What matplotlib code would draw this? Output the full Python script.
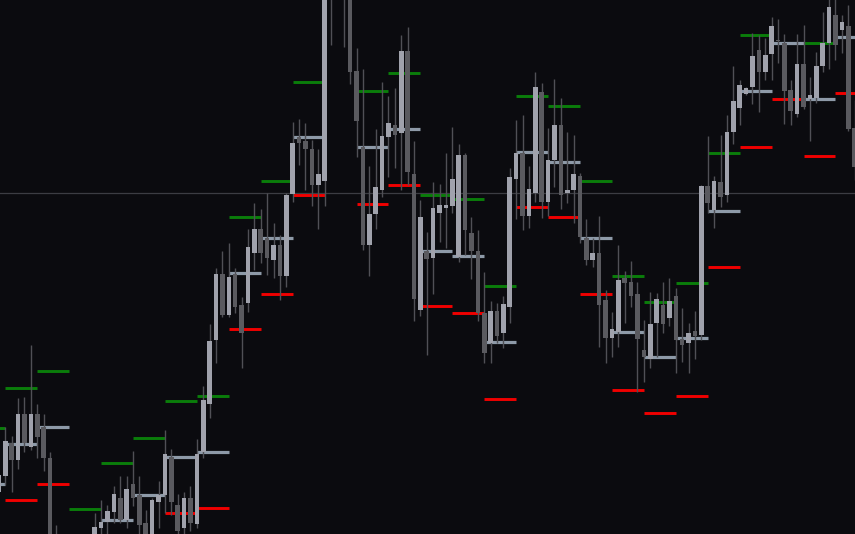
import numpy as np
import matplotlib.pyplot as plt

# candle values, one per bar (bars 9-14 and 52-54 sit outside the visible window)
opens = [42, 58.3, 90.7, 74, 120, 87.3, 120, 107.3, 75.7, -21,
         -46, -61, -66, -51, -36, -16, 5.7, 12.3, 21.7, 35.7,
         14, 50, 39, 11.3, -11, 32.3, 39, 76.7, 29, 5.7,
         35.7, 10, 82.3, 130, 194, 260, 219, 260, 229, 231,
         281.3, 304.7, 295.7, 274, 289, 258, 340, 397.3, 393.3, 385.3,
         348.7, 353.3, 564, 544, 559, 539, 463.3, 387.3, 289, 320,
         344, 397.3, 409, 401.3, 483, 360, 224, 283.3, 275.7, 321.3,
         325.7, 328, 277.3, 379, 300.7, 283.3, 220.7, 191.3, 223.3, 201.3,
         227.3, 354.7, 381.3, 318, 341.3, 442.3, 332.3, 374, 409, 340.7,
         344, 358, 295.7, 274, 281.3, 234, 195.7, 201.7, 255.7, 252.3,
         239.7, 184, 174.7, 211.3, 229, 215.7, 238, 194.7, 190.7, 203.3,
         199, 348, 324, 352.3, 339, 402.3, 425.7, 440, 447.3, 484,
         462.3, 480, 494, 491.3, 444, 420, 470, 434.7, 435.7, 468,
         491.3, 519, 504, 508, 405.7]
highs = [64, 107.3, 98, 136.3, 137.3, 189, 129.7, 120, 82.3, 9,
         -26, -36, -41, -26, -11, 21.3, 34, 29, 48.3, 58,
         58, 83.3, 58, 24, 36, 53.3, 104, 84.7, 40, 42.3,
         48, 94.7, 148, 210, 265.7, 283.3, 291.3, 265.7, 236.7, 304.7,
         331.3, 324.7, 341.3, 310.7, 299, 341.3, 412.3, 415, 410.7, 394,
         385.3, 564, 574, 574, 579, 554, 485.7, 464.7, 368, 404.7,
         452.3, 438, 445.7, 499, 506.7, 393.3, 334, 302.3, 352.3, 350,
         381.3, 406.7, 390, 381.3, 316.7, 304, 262.3, 233.3, 231.3, 238,
         365.7, 414, 419, 368, 461.7, 450.7, 405.7, 455, 435.7, 402.3,
         399, 360.7, 314.7, 295.7, 318, 244, 222.3, 289, 263.3, 273.3,
         252.3, 214, 242.3, 241.3, 252.3, 255.7, 245.7, 225.7, 210.7, 223.3,
         349, 398, 358, 399, 419, 468, 454, 446.7, 501.3, 499,
         495.7, 517.3, 514.7, 500, 454, 500, 509, 456.7, 482.3, 522.3,
         536, 535, 519, 529, 434]
lows = [34, 49, 42.3, 64.7, 82.3, 84, 75.7, 63.3, -41, -66,
        -76, -81, -86, -66, -46, -21, -4, -2, 11.3, 11.3,
        6, 28, -2, -14, -16, 5.7, 20.7, 19, -2, -2,
        3.3, 5.7, 75.7, 115.7, 171.3, 217.3, 217.3, 221.3, 165.7, 222,
        264, 270.7, 259, 255.7, 234, 246.7, 332.3, 369, 344, 328,
        304.7, 328, 489, 537, 487.3, 450, 376.7, 284, 258, 304.7,
        336.7, 356.7, 365.7, 344, 349, 213.3, 218, 179, 240, 292.3,
        285.7, 321.3, 272.3, 279, 254.7, 213.3, 171.3, 171.3, 191.3, 185.7,
        211.3, 314.7, 304, 305.7, 332.3, 315.7, 318, 347.3, 324.7, 331.3,
        310.7, 291.3, 269, 267.3, 187.3, 171.3, 177.3, 187.3, 211.3, 227.3,
        142.3, 152.3, 165.7, 176.7, 200.7, 208, 160.7, 172.3, 160.7, 174.7,
        194, 320.7, 305.7, 327.3, 332.3, 390, 409, 439, 430, 422.3,
        454, 454, 471.3, 410, 409, 417.3, 424.7, 393.3, 431.3, 462.3,
        464.7, 474, 481.3, 403, 354]
closes = [59, 93, 74, 120, 90.7, 120, 96.7, 75.7, -26, -46,
          -61, -66, -51, -36, -16, 6.7, 11.7, 22.7, 40, 14,
          45.3, 35.7, 9, -6, 34, 39, 80, 32.3, 3.3, 35.7,
          11.3, 80, 134, 193.3, 260, 219, 257.3, 227.3, 200.7, 287.3,
          304.7, 281.3, 275.7, 289, 258, 339, 391.3, 391.3, 384.7, 348.7,
          360, 549, 542, 559, 539, 462.3, 413.3, 289, 320, 347.3,
          398, 410.7, 399, 483, 362.3, 234.7, 316.7, 274.7, 325.7, 329,
          329, 354.7, 379, 304, 283.3, 221.3, 181.3, 223.3, 198, 230,
          356.7, 380.7, 318, 344.7, 447.3, 332.3, 374, 409, 339, 344,
          359.7, 297.3, 274, 280.7, 229, 195.7, 204.7, 254, 251.3, 238,
          194.7, 176.7, 209.7, 234.7, 210, 233.3, 194, 189, 201.3, 198,
          348, 331.3, 353, 337.3, 402.3, 433.3, 449, 445.7, 478, 462.3,
          479, 508, 493, 443.3, 423.3, 470, 426.7, 439, 468, 491.3,
          527.3, 489, 512.3, 404.7, 367.3]

# levels per 5-bar period: resistance, pivot, support
period_start = [-4, 1, 6, 11, 16, 21, 26, 31, 36, 41, 46, 51, 56, 61,
                66, 71, 76, 81, 86, 91, 96, 101, 106, 111, 116, 121, 126, 131]
level_hi = [106.3, 146, 163.3, 24.7, 70.7, 96.3, 133, 138, 316.7, 353.3, 452.3, 660, 443.3, 461.3,
            339, 334.7, 248, 438, 428.3, 353.3, 258, 232.3, 251.3, 380.7, 499, 546.7, 490.7, 553.3]
level_mid = [50, 90, 107.3, -31, 14, 39, 77.3, 82.3, 260.7, 295.7, 396.7, 604, 387.3, 404.7,
             283.3, 278, 192.3, 382.3, 372.3, 295.7, 202.3, 176.7, 195.7, 323, 443.3, 490.7, 434.7, 497.3]
level_lo = [-6, 34, 50, -87, -42, -17, 20.7, 25.7, 204.7, 240, 339, 548, 330, 349,
            228, 220.7, 134.7, 326.7, 316.7, 240, 144, 120.7, 138.3, 267.3, 387.3, 434.7, 378, 440.7]
period_len = 5
last_price = 341.3

bg = '#0b0b0f'
bull = '#a0a2ac'
bear = '#5a5a5f'
wick = '#505056'

fig = plt.figure(figsize=(8.55, 5.34), dpi=100)
fig.patch.set_facecolor(bg)
ax = fig.add_axes([0, 0, 1, 1])
ax.set_facecolor(bg)

o = np.array(opens)
h = np.array(highs)
l = np.array(lows)
c = np.array(closes)
x = np.arange(len(o))
s = np.array(period_start)

ax.axhline(last_price, color='#3c3d43', lw=0.9, zorder=1)
ax.hlines(level_hi, s, s + period_len, color='#0a7d0a', lw=2.1, zorder=2)
ax.hlines(level_lo, s, s + period_len, color='#f00000', lw=2.1, zorder=2)
ax.hlines(level_mid, s, s + period_len, color='#8e9aa8', lw=2.3, zorder=2)

up = c >= o
ax.vlines(x, l, h, color=wick, lw=1.0, zorder=3)
ax.bar(x, np.maximum(np.abs(c - o), 1.0), bottom=np.minimum(o, c), width=0.72,
       color=np.where(up, bull, bear), linewidth=0, zorder=4)

ax.set_xlim(0.171, 134.06)
ax.set_ylim(0, 534)
ax.axis('off')

fig.savefig('out.png', dpi=100, facecolor=bg)
